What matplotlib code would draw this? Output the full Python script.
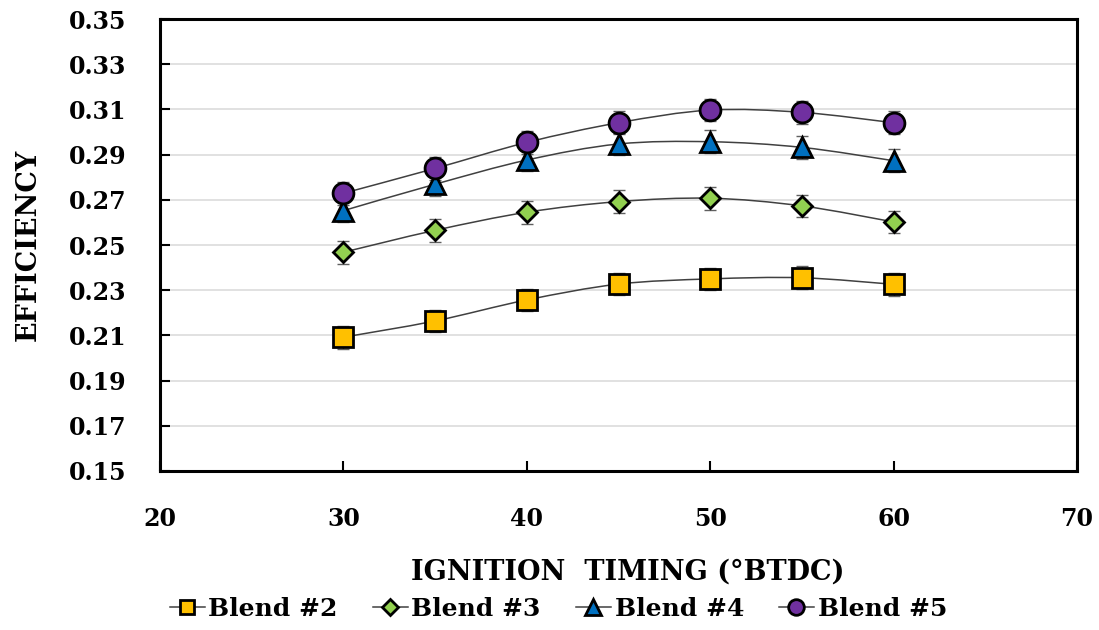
import matplotlib
matplotlib.use("Agg")
import matplotlib.pyplot as plt
from matplotlib.path import Path
from matplotlib.patches import PathPatch
from matplotlib.lines import Line2D
import numpy as np

plt.rcParams['font.family'] = ['DejaVu Serif']
plt.rcParams['font.weight'] = 'bold'

timing = [30, 35, 40, 45, 50, 55, 60]
blend2 = [0.2092, 0.2164, 0.2257, 0.2327, 0.2350, 0.2355, 0.2326]
blend3 = [0.2468, 0.2565, 0.2645, 0.2692, 0.2707, 0.2673, 0.2602]
blend4 = [0.2652, 0.2769, 0.2876, 0.2947, 0.2957, 0.2932, 0.2873]
blend5 = [0.2729, 0.2839, 0.2954, 0.3041, 0.3097, 0.3087, 0.3041]
err = 0.005
names = ['Blend #2', 'Blend #3', 'Blend #4', 'Blend #5']
series = [blend2, blend3, blend4, blend5]
markers = ['s', 'D', '^', 'o']
colors = ['#FFC000', '#92D050', '#0070C0', '#7030A0']
msizes = [14, 10.5, 15, 15]

fig = plt.figure(figsize=(10.99, 6.30), dpi=100)
ax = fig.add_axes([0.1456, 0.2524, 0.8344, 0.7174])


def smooth_path(x, y):
    x = np.asarray(x, float)
    y = np.asarray(y, float)
    verts = [(x[0], y[0])]
    codes = [Path.MOVETO]
    n = len(x)
    for i in range(n - 1):
        p0 = np.array([x[max(i - 1, 0)], y[max(i - 1, 0)]])
        p1 = np.array([x[i], y[i]])
        p2 = np.array([x[i + 1], y[i + 1]])
        p3 = np.array([x[min(i + 2, n - 1)], y[min(i + 2, n - 1)]])
        c1 = p1 + (p2 - p0) / 6.0
        c2 = p2 - (p3 - p1) / 6.0
        verts += [tuple(c1), tuple(c2), tuple(p2)]
        codes += [Path.CURVE4] * 3
    return Path(verts, codes)


handles = []
for name, ys, m, c, ms in zip(names, series, markers, colors, msizes):
    ax.add_patch(PathPatch(smooth_path(timing, ys), facecolor='none',
                           edgecolor='#404040', lw=1.1, zorder=2))
    ax.errorbar(timing, ys, yerr=err, fmt='none', ecolor='#606060',
                elinewidth=1.0, capsize=4, capthick=1.0, zorder=3)
    ax.plot(timing, ys, linestyle='none', marker=m, markersize=ms,
            markerfacecolor=c, markeredgecolor='black', markeredgewidth=2,
            zorder=4)
    handles.append(Line2D([], [], color='#404040', lw=1.1, marker=m,
                          markersize=ms * 0.75, markerfacecolor=c,
                          markeredgecolor='black', markeredgewidth=2,
                          label=name))

ax.set_xlim(20, 70)
ax.set_ylim(0.15, 0.35)
ax.set_xticks(np.arange(20, 71, 10))
ax.set_yticks(np.round(np.arange(0.15, 0.351, 0.02), 2))
ax.yaxis.set_major_formatter(matplotlib.ticker.FormatStrFormatter('%.2f'))
ax.grid(axis='y', color='#dcdcdc', lw=1.2)
ax.set_axisbelow(True)
for s in ax.spines.values():
    s.set_linewidth(2.2)
    s.set_color('black')
ax.tick_params(axis='both', direction='in', length=7, width=1.5,
               labelsize=17)
ax.tick_params(axis='x', pad=26)
ax.tick_params(axis='y', pad=24)
for lab in ax.get_xticklabels() + ax.get_yticklabels():
    lab.set_fontweight('bold')

ax.set_xlabel('IGNITION  TIMING (°BTDC)', fontsize=19.5, fontweight='bold',
              va='center', ha='center')
ax.xaxis.set_label_coords(0.510, -0.2235)
ax.set_ylabel('EFFICIENCY', fontsize=19.5, fontweight='bold',
              va='center', ha='center')
ax.yaxis.set_label_coords(-0.144, 0.5)

fig.legend(handles=handles, loc='center', bbox_to_anchor=(0.508, 0.034),
           ncol=4, frameon=False, handlelength=1.4,
           handletextpad=0.15, columnspacing=1.4,
           prop={'weight': 'bold', 'size': 18})

fig.savefig('out.png', dpi=100)
